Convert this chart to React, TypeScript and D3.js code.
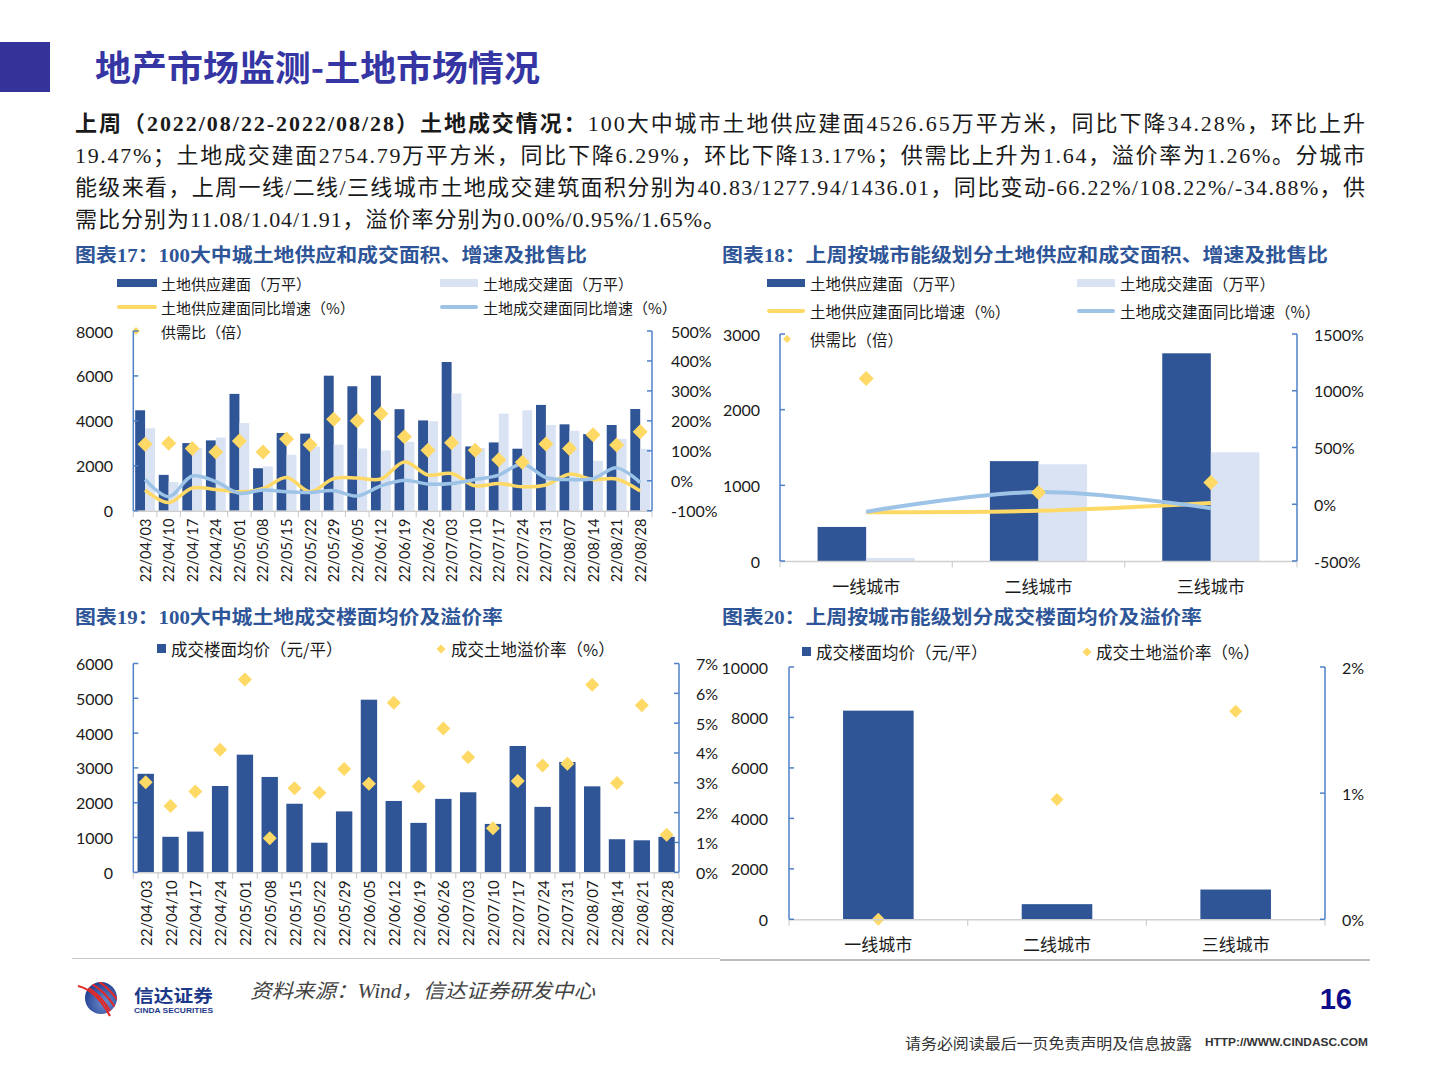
import React from "react";
import * as d3 from "d3";

// ---------------- DATA ----------------
const dates = [
  "22/04/03", "22/04/10", "22/04/17", "22/04/24", "22/05/01", "22/05/08", "22/05/15", "22/05/22",
  "22/05/29", "22/06/05", "22/06/12", "22/06/19", "22/06/26", "22/07/03", "22/07/10", "22/07/17",
  "22/07/24", "22/07/31", "22/08/07", "22/08/14", "22/08/21", "22/08/28",
];
// Chart 17 (万平, %, 倍)
const supply17 = [4470, 1595, 3010, 3130, 5200, 1890, 3460, 3430, 6010, 5540, 6010, 4520, 4020, 6620, 2860, 3040, 2760, 4710, 3845, 3410, 3815, 4527];
const deal17 = [3670, 1280, 2790, 3260, 3900, 1970, 2490, 2850, 2940, 2770, 2680, 3070, 3980, 5220, 2790, 4320, 4470, 3815, 3560, 2220, 3200, 2755];
const supplyYoY17 = [-31, -73, -24, -29, -37, -26, 11, -37, 7, 9, 6, 63, 19, 24, -17, -9, -20, -14, 22, 4, 6, -34.28];
const dealYoY17 = [4, -53, 16, -3, -42, -31, -37, -39, -33, -51, -17, 2, -11, -9, 4, 19, 56, 11, 4, 7, 43, -6.29];
const ratio17 = [1.22, 1.25, 1.08, 0.96, 1.33, 0.96, 1.39, 1.2, 2.05, 2.0, 2.24, 1.47, 1.02, 1.27, 1.02, 0.7, 0.62, 1.23, 1.08, 1.54, 1.19, 1.64];

// Chart 18
const cities = ["一线城市", "二线城市", "三线城市"];
const supply18 = [450, 1320, 2745];
const deal18 = [40.83, 1277.94, 1436.01];
const supplyYoY18 = [-70, -58, 12];
const dealYoY18 = [-66.22, 108.22, -34.88];
const ratio18 = [11.08, 1.04, 1.91];

// Chart 19 (元/平, %)
const price19 = [2830, 1020, 1170, 2480, 3380, 2740, 1970, 850, 1750, 4960, 2050, 1420, 2110, 2300, 1390, 3630, 1880, 3170, 2470, 950, 920, 1020];
const premium19 = [3.02, 2.22, 2.71, 4.11, 6.46, 1.14, 2.82, 2.67, 3.46, 2.97, 5.68, 2.88, 4.82, 3.86, 1.48, 3.06, 3.58, 3.64, 6.29, 2.99, 5.6, 1.26];

// Chart 20
const price20 = [8270, 600, 1180];
const premium20 = [0.0, 0.95, 1.65];

// Axis ticks
const ticksL17 = [0, 2000, 4000, 6000, 8000];
const ticksR17 = [-100, 0, 100, 200, 300, 400, 500];
const ticksL18 = [0, 1000, 2000, 3000];
const ticksR18 = [-500, 0, 500, 1000, 1500];
const ticksL19 = [0, 1000, 2000, 3000, 4000, 5000, 6000];
const ticksR19 = [0, 1, 2, 3, 4, 5, 6, 7];
const ticksL20 = [0, 2000, 4000, 6000, 8000, 10000];
const ticksR20 = [0, 1, 2];

// ---------------- STYLE ----------------
const CJK = "'Noto Sans CJK SC', sans-serif";
const NUM = "Lato, 'Noto Sans CJK SC', sans-serif";
const SERIF = "'Liberation Serif', 'Noto Sans CJK SC', serif";
const DARK = "#2f5597";
const LIGHT = "#dae3f3";
const YELLOW = "#ffd966";
const SKY = "#9dc3e6";
const AXIS = "#4f81c7";
const GRAY = "#d0d0d0";
const TITLE = "#2e5597";
const TXT = "#1a1a1a";

const diamond = (cx: number, cy: number, r: number) =>
  `M${cx},${cy - r}L${cx + r},${cy}L${cx},${cy + r}L${cx - r},${cy}Z`;

function VAxis({ x, scale, ticks, side, fmt, labelX, fontSize }: any) {
  const [r0, r1] = scale.range();
  const dir = side === "left" ? 1 : -1;
  return (
    <g>
      <line x1={x} x2={x} y1={r0} y2={r1} stroke={AXIS} strokeWidth={1.5} />
      {ticks.map((t: number) => (
        <g key={t}>
          <line x1={x} x2={x + dir * 5} y1={scale(t)} y2={scale(t)} stroke={AXIS} strokeWidth={1.5} />
          <text
            x={labelX}
            y={scale(t)}
            textAnchor={side === "left" ? "end" : "start"}
            dominantBaseline="central"
            fontFamily={NUM}
            fontSize={fontSize || 16}
            fill={TXT}
          >
            {fmt ? fmt(t) : t}
          </text>
        </g>
      ))}
    </g>
  );
}

function XAxisLine({ band, y }: any) {
  const dom = band.domain();
  const bounds = dom.map((d: string) => band(d)).concat([band(dom[dom.length - 1]) + band.bandwidth()]);
  const [a, b] = band.range();
  return (
    <g>
      <line x1={a} x2={b} y1={y} y2={y} stroke={GRAY} strokeWidth={1.5} />
      {bounds.map((bx: number, i: number) => (
        <line key={i} x1={bx} x2={bx} y1={y} y2={y + 6} stroke={GRAY} strokeWidth={1.2} />
      ))}
    </g>
  );
}

function RotLabels({ band, y, fontSize }: any) {
  return (
    <g>
      {band.domain().map((d: string) => (
        <text
          key={d}
          transform={`translate(${band(d) + band.bandwidth() / 2},${y}) rotate(-90)`}
          textAnchor="end"
          dominantBaseline="central"
          fontFamily={NUM}
          fontSize={fontSize}
          fill={TXT}
        >
          {d}
        </text>
      ))}
    </g>
  );
}

function LegendRect({ x, y, w, color, label, tx, fs }: any) {
  return (
    <g>
      <rect x={x} y={y - 4} width={w} height={8} fill={color} />
      <text x={tx} y={y} dominantBaseline="central" fontFamily={CJK} fontSize={fs} fill={TXT}>{label}</text>
    </g>
  );
}
function LegendLine({ x, y, w, color, label, tx, fs }: any) {
  return (
    <g>
      <line x1={x + 2} x2={x + w - 2} y1={y} y2={y} stroke={color} strokeWidth={4} strokeLinecap="round" />
      <text x={tx} y={y} dominantBaseline="central" fontFamily={CJK} fontSize={fs} fill={TXT}>{label}</text>
    </g>
  );
}
function LegendDiamond({ cx, y, label, tx, fs, r }: any) {
  return (
    <g>
      <path d={diamond(cx, y, r || 4)} fill={YELLOW} />
      <text x={tx} y={y} dominantBaseline="central" fontFamily={CJK} fontSize={fs} fill={TXT}>{label}</text>
    </g>
  );
}

// ---------------- CHART 17 ----------------
function Chart17() {
  const x0 = 133.3, x1 = 652, yTop = 331, yBot = 510.7;
  const x = d3.scaleBand<string>().domain(dates).range([x0, x1]);
  const yL = d3.scaleLinear().domain([0, 8000]).range([yBot, yTop]);
  const yR = d3.scaleLinear().domain([-100, 500]).range([yBot, yTop]);
  const bw = x.bandwidth() * 0.42;
  const cx = (i: number) => (x(dates[i]) as number) + x.bandwidth() / 2;
  const line = d3.line<number>().x((_, i) => cx(i)).y((d) => yR(d)).curve(d3.curveCatmullRom);
  return (
    <g>
      <text x={75} y={262} fontFamily={SERIF} fontWeight="bold" fontSize={19} fill={TITLE} textLength={512} lengthAdjust="spacingAndGlyphs">
        图表17：100大中城土地供应和成交面积、增速及批售比
      </text>
      <LegendRect x={117} y={283} w={40} color={DARK} label="土地供应建面（万平）" tx={161} fs={15} />
      <LegendRect x={440} y={283} w={38} color={LIGHT} label="土地成交建面（万平）" tx={483} fs={15} />
      <LegendLine x={117} y={307} w={40} color={YELLOW} label="土地供应建面同比增速（%）" tx={161} fs={15} />
      <LegendLine x={440} y={307} w={38} color={SKY} label="土地成交建面同比增速（%）" tx={483} fs={15} />
      <LegendDiamond cx={136} y={331} label="供需比（倍）" tx={161} fs={15} />

      {dates.map((d, i) => (
        <g key={d}>
          <rect x={cx(i) - bw} y={yL(supply17[i])} width={bw} height={yBot - yL(supply17[i])} fill={DARK} />
          <rect x={cx(i)} y={yL(deal17[i])} width={bw} height={yBot - yL(deal17[i])} fill={LIGHT} />
        </g>
      ))}
      <path d={line(supplyYoY17) as string} fill="none" stroke={YELLOW} strokeWidth={3.5} />
      <path d={line(dealYoY17) as string} fill="none" stroke={SKY} strokeWidth={3.5} />
      {ratio17.map((r, i) => (
        <path key={i} d={diamond(cx(i), yR(r * 100), 7.5)} fill={YELLOW} />
      ))}
      <XAxisLine band={x} y={yBot + 0.5} />
      <VAxis x={x0} scale={yL} ticks={ticksL17} side="left" labelX={113} />
      <VAxis x={x1} scale={yR} ticks={ticksR17} side="right" labelX={671} fmt={(t: number) => `${t}%`} />
      <RotLabels band={x} y={yBot + 8} fontSize={14.5} />
    </g>
  );
}

// ---------------- CHART 18 ----------------
function Chart18() {
  const x0 = 780, x1 = 1297, yTop = 334, yBot = 561;
  const x = d3.scaleBand<string>().domain(cities).range([x0, x1]);
  const yL = d3.scaleLinear().domain([0, 3000]).range([yBot, yTop]);
  const yR = d3.scaleLinear().domain([-500, 1500]).range([yBot, yTop]);
  const bw = x.bandwidth() * 0.282;
  const cx = (i: number) => (x(cities[i]) as number) + x.bandwidth() / 2;
  const line = d3.line<number>().x((_, i) => cx(i)).y((d) => yR(d)).curve(d3.curveCatmullRom);
  return (
    <g>
      <text x={722} y={262} fontFamily={SERIF} fontWeight="bold" fontSize={19} fill={TITLE} textLength={606} lengthAdjust="spacingAndGlyphs">
        图表18：上周按城市能级划分土地供应和成交面积、增速及批售比
      </text>
      <LegendRect x={767} y={283} w={38} color={DARK} label="土地供应建面（万平）" tx={810} fs={15.5} />
      <LegendRect x={1077} y={283} w={38} color={LIGHT} label="土地成交建面（万平）" tx={1120} fs={15.5} />
      <LegendLine x={767} y={311} w={38} color={YELLOW} label="土地供应建面同比增速（%）" tx={810} fs={15.5} />
      <LegendLine x={1077} y={311} w={38} color={SKY} label="土地成交建面同比增速（%）" tx={1120} fs={15.5} />
      <LegendDiamond cx={787} y={339} label="供需比（倍）" tx={810} fs={15.5} />

      {cities.map((c, i) => (
        <g key={c}>
          <rect x={cx(i) - bw} y={yL(supply18[i])} width={bw} height={yBot - yL(supply18[i])} fill={DARK} />
          <rect x={cx(i)} y={yL(deal18[i])} width={bw} height={yBot - yL(deal18[i])} fill={LIGHT} />
        </g>
      ))}
      <path d={line(supplyYoY18) as string} fill="none" stroke={YELLOW} strokeWidth={4} />
      <path d={line(dealYoY18) as string} fill="none" stroke={SKY} strokeWidth={4} />
      {ratio18.map((r, i) => (
        <path key={i} d={diamond(cx(i), yR(r * 100), 7.5)} fill={YELLOW} />
      ))}
      <XAxisLine band={x} y={yBot + 0.5} />
      <VAxis x={x0} scale={yL} ticks={ticksL18} side="left" labelX={760} />
      <VAxis x={x1} scale={yR} ticks={ticksR18} side="right" labelX={1314} fmt={(t: number) => `${t}%`} />
      {cities.map((c, i) => (
        <text key={c} x={cx(i)} y={585} textAnchor="middle" dominantBaseline="central" fontFamily={CJK} fontSize={17} fill={TXT}>
          {c}
        </text>
      ))}
    </g>
  );
}

// ---------------- CHART 19 ----------------
function Chart19() {
  const x0 = 133.3, x1 = 679, yTop = 663.5, yBot = 872.3;
  const x = d3.scaleBand<string>().domain(dates).range([x0, x1]);
  const yL = d3.scaleLinear().domain([0, 6000]).range([yBot, yTop]);
  const yR = d3.scaleLinear().domain([0, 7]).range([yBot, yTop]);
  const bw = x.bandwidth() * 0.66;
  const cx = (i: number) => (x(dates[i]) as number) + x.bandwidth() / 2;
  return (
    <g>
      <text x={75} y={624} fontFamily={SERIF} fontWeight="bold" fontSize={19} fill={TITLE} textLength={428} lengthAdjust="spacingAndGlyphs">
        图表19：100大中城土地成交楼面均价及溢价率
      </text>
      <rect x={157} y={644} width={9} height={9} fill={DARK} />
      <text x={171} y={648.5} dominantBaseline="central" fontFamily={CJK} fontSize={16.5} fill={TXT}>成交楼面均价（元/平）</text>
      <path d={diamond(441, 649, 4.5)} fill={YELLOW} />
      <text x={451} y={648.5} dominantBaseline="central" fontFamily={CJK} fontSize={16.5} fill={TXT}>成交土地溢价率（%）</text>

      {dates.map((d, i) => (
        <rect key={d} x={cx(i) - bw / 2} y={yL(price19[i])} width={bw} height={yBot - yL(price19[i])} fill={DARK} />
      ))}
      {premium19.map((p, i) => (
        <path key={i} d={diamond(cx(i), yR(p), 7)} fill={YELLOW} />
      ))}
      <XAxisLine band={x} y={yBot + 0.5} />
      <VAxis x={x0} scale={yL} ticks={ticksL19} side="left" labelX={113} />
      <VAxis x={x1} scale={yR} ticks={ticksR19} side="right" labelX={696} fmt={(t: number) => `${t}%`} />
      <RotLabels band={x} y={yBot + 8} fontSize={15} />
    </g>
  );
}

// ---------------- CHART 20 ----------------
function Chart20() {
  const x0 = 789, x1 = 1325, yTop = 667, yBot = 919.3;
  const x = d3.scaleBand<string>().domain(cities).range([x0, x1]);
  const yL = d3.scaleLinear().domain([0, 10000]).range([yBot, yTop]);
  const yR = d3.scaleLinear().domain([0, 2]).range([yBot, yTop]);
  const bw = x.bandwidth() * 0.395;
  const cx = (i: number) => (x(cities[i]) as number) + x.bandwidth() / 2;
  return (
    <g>
      <text x={722} y={624} fontFamily={SERIF} fontWeight="bold" fontSize={19} fill={TITLE} textLength={480} lengthAdjust="spacingAndGlyphs">
        图表20：上周按城市能级划分成交楼面均价及溢价率
      </text>
      <rect x={802} y={647} width={9} height={9} fill={DARK} />
      <text x={816} y={651.5} dominantBaseline="central" fontFamily={CJK} fontSize={16.5} fill={TXT}>成交楼面均价（元/平）</text>
      <path d={diamond(1087, 652, 4.5)} fill={YELLOW} />
      <text x={1096} y={651.5} dominantBaseline="central" fontFamily={CJK} fontSize={16.5} fill={TXT}>成交土地溢价率（%）</text>

      {cities.map((c, i) => (
        <rect key={c} x={cx(i) - bw / 2} y={yL(price20[i])} width={bw} height={yBot - yL(price20[i])} fill={DARK} />
      ))}
      {premium20.map((p, i) => (
        <path key={i} d={diamond(cx(i), yR(p), 6.5)} fill={YELLOW} />
      ))}
      <XAxisLine band={x} y={yBot + 0.5} />
      <VAxis x={x0} scale={yL} ticks={ticksL20} side="left" labelX={768} />
      <VAxis x={x1} scale={yR} ticks={ticksR20} side="right" labelX={1342} fmt={(t: number) => `${t}%`} />
      {cities.map((c, i) => (
        <text key={c} x={cx(i)} y={943} textAnchor="middle" dominantBaseline="central" fontFamily={CJK} fontSize={17} fill={TXT}>
          {c}
        </text>
      ))}
    </g>
  );
}

// ---------------- HEADER / FOOTER ----------------
function Header() {
  return (
    <g>
      <rect x={0} y={42} width={50} height={50} fill="#333399" />
      <text x={95} y={81} fontFamily={CJK} fontWeight="bold" fontSize={35} fill="#3535a3" textLength={445} lengthAdjust="spacingAndGlyphs">
        地产市场监测-土地市场情况
      </text>
      <g fontFamily={SERIF} fontSize={22} fill={TXT}>
        <text x={75} y={131} textLength={1290} lengthAdjust="spacing">
          <tspan fontWeight="bold">上周（2022/08/22-2022/08/28）土地成交情况：</tspan>100大中城市土地供应建面4526.65万平方米，同比下降34.28%，环比上升
        </text>
        <text x={75} y={163} textLength={1290} lengthAdjust="spacing">
          19.47%；土地成交建面2754.79万平方米，同比下降6.29%，环比下降13.17%；供需比上升为1.64，溢价率为1.26%。分城市
        </text>
        <text x={75} y={195} textLength={1290} lengthAdjust="spacing">
          能级来看，上周一线/二线/三线城市土地成交建筑面积分别为40.83/1277.94/1436.01，同比变动-66.22%/108.22%/-34.88%，供
        </text>
        <text x={75} y={227} textLength={650} lengthAdjust="spacing">
          需比分别为11.08/1.04/1.91，溢价率分别为0.00%/0.95%/1.65%。
        </text>
      </g>
    </g>
  );
}

function Footer() {
  return (
    <g>
      <line x1={72} x2={720} y1={958.5} y2={958.5} stroke="#c8c8c8" strokeWidth={1.2} />
      <line x1={720} x2={1370} y1={960} y2={960} stroke="#a8a8a8" strokeWidth={1.5} />
      {/* logo */}
      <defs>
        <radialGradient id="lg" cx="0.6" cy="0.65" r="0.7">
          <stop offset="0" stopColor="#6f8fd0" />
          <stop offset="1" stopColor="#1c3a8c" />
        </radialGradient>
        <clipPath id="lc">
          <circle cx={101} cy={998} r={16} />
        </clipPath>
      </defs>
      <circle cx={101} cy={998} r={16} fill="url(#lg)" />
      <g clipPath="url(#lc)" fill="none" stroke="#e02a2a" strokeWidth={2.2}>
        <path d="M80,984 Q98,990 112,1014" />
        <path d="M83,980 Q102,986 117,1010" />
        <path d="M87,976 Q106,982 121,1005" />
      </g>
      <path d="M78,986 Q96,990 110,1016" fill="none" stroke="#e02a2a" strokeWidth={2.2} />
      <text x={134} y={1002} fontFamily={CJK} fontWeight="bold" fontSize={17} fill="#1d3a8a" textLength={79} lengthAdjust="spacingAndGlyphs">信达证券</text>
      <text x={134} y={1012.5} fontFamily="'Liberation Sans', Arial, sans-serif" fontWeight="bold" fontSize={6.5} fill="#1d3a8a" textLength={79} lengthAdjust="spacingAndGlyphs">CINDA SECURITIES</text>
      <text x={250} y={998} fontFamily={SERIF} fontStyle="italic" fontSize={20} fill="#444" textLength={345} lengthAdjust="spacingAndGlyphs">
        资料来源：Wind，信达证券研发中心
      </text>
      <text x={1352} y={1009} textAnchor="end" fontFamily="'Liberation Sans', Arial, sans-serif" fontWeight="bold" fontSize={29} fill="#0d0d8c">16</text>
      <text x={905} y={1042} dominantBaseline="central" fontFamily={CJK} fontSize={15} fill="#333" textLength={287} lengthAdjust="spacingAndGlyphs">
        请务必阅读最后一页免责声明及信息披露
      </text>
      <text x={1205} y={1042} dominantBaseline="central" fontFamily="'Liberation Sans', Arial, sans-serif" fontWeight="bold" fontSize={11.5} fill="#333" textLength={163} lengthAdjust="spacingAndGlyphs">
        HTTP://WWW.CINDASC.COM
      </text>
    </g>
  );
}

export default function App() {
  return (
    <div style={{ position: "absolute", left: 0, top: 0, width: 1440, height: 1080, background: "#fff" }}>
      <svg width={1440} height={1080} viewBox="0 0 1440 1080" style={{ display: "block" }}>
        <rect width={1440} height={1080} fill="#fff" />
        <Header />
        <Chart17 />
        <Chart18 />
        <Chart19 />
        <Chart20 />
        <Footer />
      </svg>
    </div>
  );
}
